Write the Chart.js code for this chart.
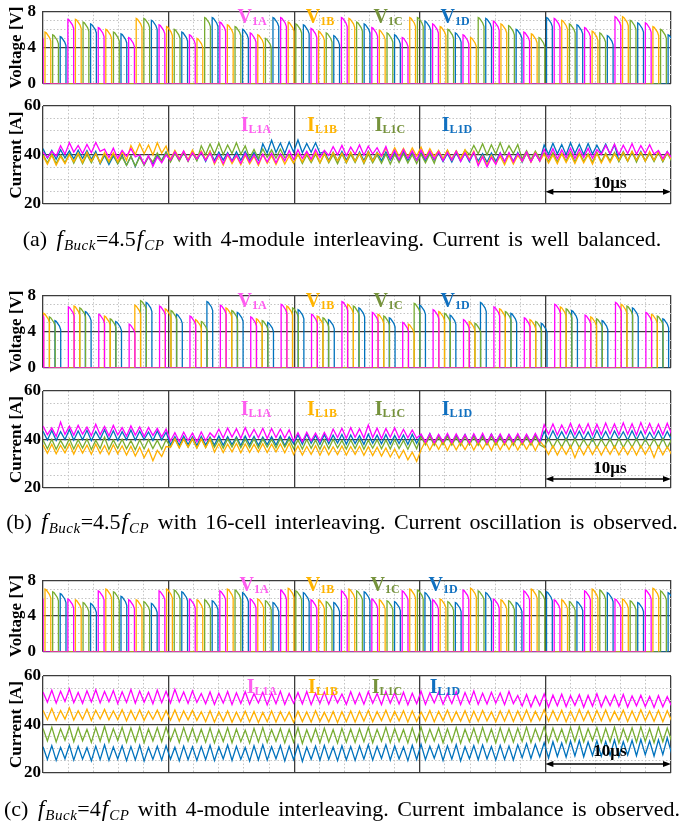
<!DOCTYPE html>
<html><head><meta charset="utf-8">
<script src="https://cdn.jsdelivr.net/npm/chart.js@4.4.1/dist/chart.umd.min.js"></script>
<style>
html,body{margin:0;padding:0;background:#fff;}
body{width:684px;height:827px;position:relative;overflow:hidden;font-family:"Liberation Serif","Times New Roman",serif;}
canvas{position:absolute;left:0;}
.lbl{position:absolute;font-weight:bold;font-size:20px;line-height:1;white-space:nowrap;transform:translate(-50%,-50%);}
.lbl sub{font-size:12px;vertical-align:-2px;}
.cap{position:absolute;left:0;width:684px;text-align:center;font-size:22px;word-spacing:3px;line-height:1;white-space:nowrap;transform:translateY(-50%);color:#000;}
.cap .m{font-style:italic;font-size:23px;padding:0 1px;}
.cap sub{font-size:15px;vertical-align:-4px;font-style:italic;letter-spacing:0.5px;}
.ar{position:absolute;font-weight:bold;font-size:17px;line-height:1;transform:translate(-50%,-50%);}
</style></head><body>
<canvas id="va" width="684" height="107" style="top:-6px"></canvas>
<canvas id="ia" width="684" height="126" style="top:92px"></canvas>
<canvas id="vb" width="684" height="107" style="top:278px"></canvas>
<canvas id="ib" width="684" height="125" style="top:377px"></canvas>
<canvas id="vc" width="684" height="106" style="top:563px"></canvas>
<canvas id="ic" width="684" height="125" style="top:662px"></canvas>

<div class="lbl" style="left:252px;top:16px;color:#ff5cf0">V<sub>1A</sub></div>
<div class="lbl" style="left:320px;top:16px;color:#ffb400">V<sub>1B</sub></div>
<div class="lbl" style="left:388px;top:16px;color:#76933c">V<sub>1C</sub></div>
<div class="lbl" style="left:455px;top:16px;color:#1070c0">V<sub>1D</sub></div>
<div class="lbl" style="left:256px;top:124px;color:#ff5cf0">I<sub>L1A</sub></div>
<div class="lbl" style="left:322px;top:124px;color:#ffb400">I<sub>L1B</sub></div>
<div class="lbl" style="left:390px;top:124px;color:#76933c">I<sub>L1C</sub></div>
<div class="lbl" style="left:457px;top:124px;color:#1070c0">I<sub>L1D</sub></div>
<div class="ar" style="left:610px;top:182px">10μs</div>
<div class="cap" style="top:240px">(a) <span class="m">f</span><sub>Buck</sub>=4.5<span class="m">f</span><sub>CP</sub> with 4-module interleaving. Current is well balanced.</div>

<div class="lbl" style="left:252px;top:300px;color:#ff5cf0">V<sub>1A</sub></div>
<div class="lbl" style="left:320px;top:300px;color:#ffb400">V<sub>1B</sub></div>
<div class="lbl" style="left:388px;top:300px;color:#76933c">V<sub>1C</sub></div>
<div class="lbl" style="left:455px;top:300px;color:#1070c0">V<sub>1D</sub></div>
<div class="lbl" style="left:256px;top:408px;color:#ff5cf0">I<sub>L1A</sub></div>
<div class="lbl" style="left:322px;top:408px;color:#ffb400">I<sub>L1B</sub></div>
<div class="lbl" style="left:390px;top:408px;color:#76933c">I<sub>L1C</sub></div>
<div class="lbl" style="left:457px;top:408px;color:#1070c0">I<sub>L1D</sub></div>
<div class="ar" style="left:610px;top:467px">10μs</div>
<div class="cap" style="top:523px">(b) <span class="m">f</span><sub>Buck</sub>=4.5<span class="m">f</span><sub>CP</sub> with 16-cell interleaving. Current oscillation is observed.</div>

<div class="lbl" style="left:254px;top:584px;color:#ff5cf0">V<sub>1A</sub></div>
<div class="lbl" style="left:320px;top:584px;color:#ffb400">V<sub>1B</sub></div>
<div class="lbl" style="left:385px;top:584px;color:#76933c">V<sub>1C</sub></div>
<div class="lbl" style="left:443px;top:584px;color:#1070c0">V<sub>1D</sub></div>
<div class="lbl" style="left:262px;top:686px;color:#ff5cf0">I<sub>L1A</sub></div>
<div class="lbl" style="left:323px;top:686px;color:#ffb400">I<sub>L1B</sub></div>
<div class="lbl" style="left:387px;top:686px;color:#76933c">I<sub>L1C</sub></div>
<div class="lbl" style="left:445px;top:686px;color:#1070c0">I<sub>L1D</sub></div>
<div class="ar" style="left:610px;top:750px">10μs</div>
<div class="cap" style="top:810px">(c) <span class="m">f</span><sub>Buck</sub>=4<span class="m">f</span><sub>CP</sub> with 4-module interleaving. Current imbalance is observed.</div>

<script>
// ---------- DATA ----------
const seriesNames = ['A','B','C','D'];
// Switching pulse start times [µs], panels (a) and (c) (4-module interleaving)
const tA_ac = [-0.45,1.98,4.40,6.82,9.24,11.66,14.08,16.50,18.92,21.34,23.76,26.18,28.60,31.02,33.44,35.86,38.28,40.70,43.12,45.54,47.96];
const tB_ac = [0.16,2.58,5.00,7.42,9.84,12.26,14.68,17.10,19.52,21.94,24.36,26.78,29.20,31.62,34.04,36.46,38.88,41.30,43.72,46.14,48.56];
const tC_ac = [0.77,3.19,5.61,8.03,10.45,12.87,15.29,17.71,20.13,22.55,24.97,27.39,29.81,32.23,34.65,37.07,39.49,41.91,44.33,46.75,49.17];
const tD_ac = [1.37,3.79,6.21,8.63,11.05,13.47,15.89,18.31,20.73,23.15,25.57,27.99,30.41,32.83,35.25,37.67,40.09,42.51,44.93,47.35,49.77];
// Pulse start times [µs], panel (b) (16-cell interleaving)
const tA_b = [-0.40,2.02,4.44,6.86,9.28,11.70,14.12,16.54,18.96,21.38,23.80,26.22,28.64,31.06,33.48,35.90,38.32,40.74,43.16,45.58,48.00];
const tB_b = [0.05,2.47,4.89,7.31,9.73,12.15,14.57,16.99,19.41,21.83,24.25,26.67,29.09,31.51,33.93,36.35,38.77,41.19,43.61,46.03,48.45];
const tC_b = [0.51,2.93,5.35,7.77,10.19,12.61,15.03,17.45,19.87,22.29,24.71,27.13,29.55,31.97,34.39,36.81,39.23,41.65,44.07,46.49,48.91];
const tD_b = [0.95,3.37,5.79,8.21,10.63,13.05,15.47,17.89,20.31,22.73,25.15,27.57,29.99,32.41,34.83,37.25,39.67,42.09,44.51,46.93,49.35];

// Pulse peak voltages [V]
const vA_a = [5.9,7.1,6.2,5.1,6.5,5.4,6.8,5.6,7.3,6.1,7.3,6.2,5.1,6.6,5.4,6.9,5.7,7.2,6.2,7.4,6.7];
const vB_a = [5.7,7.1,6.0,7.2,6.3,5.0,6.5,5.4,6.8,5.8,7.2,5.9,7.3,6.3,5.1,6.6,5.5,7.0,5.8,7.4,6.3];
const vC_a = [5.4,6.8,5.7,7.2,6.0,7.3,6.3,5.0,6.6,5.6,6.8,5.6,7.3,6.0,7.3,6.4,5.1,6.6,5.6,7.0,6.0];
const vD_a = [5.2,6.6,5.5,7.0,5.7,7.3,6.0,7.3,6.5,5.3,6.6,5.4,6.9,5.6,7.2,6.0,7.3,6.5,5.3,6.7,5.4];

const vA_b = [6.5,6.7,5.9,4.8,6.8,5.7,6.9,5.6,7.0,5.9,7.3,6.1,5.0,6.4,5.3,6.7,5.5,7.0,5.8,7.2,6.1];
const vB_b = [6.0,6.8,5.7,6.9,6.5,5.3,6.6,5.4,6.8,5.7,7.0,5.9,4.8,6.2,5.1,6.5,5.3,6.7,5.6,7.0,5.9];
const vC_b = [5.6,6.6,5.4,7.4,6.3,5.1,6.3,5.2,6.6,5.5,6.8,5.7,7.1,6.0,4.9,6.2,5.1,6.5,5.4,6.8,5.7];
const vD_b = [5.2,6.2,5.1,7.2,5.9,7.3,6.1,5.0,6.4,5.3,6.6,5.5,6.9,5.8,7.2,6.0,4.9,6.3,5.2,6.6,5.4];

const vA_c = [6.8,5.9,6.8,5.8,6.8,5.9,6.8,5.9,6.9,5.8,6.8,5.9,6.8,5.8,6.9,5.9,6.8,5.8,6.8,5.9,6.9];
const vB_c = [7.0,5.8,7.0,5.8,7.0,5.8,7.0,5.9,7.1,5.8,7.0,5.8,7.0,5.9,7.1,5.8,7.0,5.8,7.0,5.9,7.1];
const vC_c = [6.7,5.5,6.7,5.6,6.9,5.8,6.9,5.7,6.8,5.6,6.8,5.7,6.9,5.6,6.8,5.7,6.8,5.6,6.9,5.7,6.8];
const vD_c = [6.5,5.4,6.2,5.4,6.7,5.7,6.6,5.5,6.6,5.5,6.7,5.6,6.6,5.5,6.6,5.5,6.7,5.6,6.6,5.5,6.6];

// Inductor currents [A], scope samples every SAMPLE_DT µs
const SAMPLE_DT = 0.35;
const iA_a = [41.2,38.9,41.5,39.6,
43.8,40.3,45.0,41.2,43.9,40.6,44.3,40.9,45.1,41.5,
42.4,39.0,42.8,38.7,41.9,39.5,42.6,39.2,
40.1,36.3,39.8,35.4,39.2,36.8,40.0,
37.9,41.3,38.2,41.6,37.6,40.9,38.4,41.2,37.8,40.8,
36.9,40.2,36.5,40.4,37.3,39.9,36.6,40.6,37.1,40.1,36.4,40.3,37.2,40.7,36.8,40.5,37.6,
41.8,38.2,42.1,38.6,41.5,38.3,42.3,38.9,41.9,
39.8,43.4,40.1,43.9,39.7,43.2,40.3,44.1,39.9,43.6,40.4,43.0,39.6,43.5,
38.4,41.9,38.1,42.2,38.6,41.7,38.0,42.0,38.5,41.6,38.3,
41.4,37.6,41.1,37.9,41.5,37.4,40.9,37.8,41.2,
35.6,39.3,35.1,39.0,36.2,
40.8,37.3,41.0,37.1,40.6,37.5,41.2,37.2,40.7,37.6,
42.3,38.8,42.6,38.5,42.1,38.9,42.8,38.6,42.4,39.0,42.7,38.7,42.2,
40.2,43.9,40.5,44.4,40.1,44.0,40.6,44.6,40.3,43.8,40.7,44.2,40.4,
41.8,38.5,41.4,38.9];
const iB_a = [39.7,36.2,39.9,35.8,39.4,36.5,40.1,
37.3,40.8,37.0,41.2,37.5,40.6,36.9,41.0,37.4,40.9,37.2,41.3,37.8,
43.9,40.2,44.6,40.5,44.1,40.0,45.0,40.8,43.7,
38.2,41.9,38.6,41.5,38.0,42.0,38.4,41.7,38.1,41.6,
36.3,39.8,35.9,40.1,36.5,39.6,36.0,39.9,36.4,39.5,35.8,40.2,36.6,39.7,36.1,40.0,36.3,39.6,36.7,40.3,
37.2,40.9,37.5,41.1,36.9,40.6,37.3,41.0,37.6,40.8,37.1,41.2,37.4,40.7,37.0,41.3,37.5,40.9,
39.3,42.8,39.1,43.0,39.5,42.7,39.2,42.9,39.6,43.2,39.0,42.6,39.4,
41.8,38.3,42.0,38.1,41.7,38.5,42.1,38.2,41.6,
36.2,39.7,35.9,39.9,36.4,39.5,36.0,40.0,36.3,39.8,
37.3,40.9,37.1,41.0,37.5,
40.3,36.7,40.0,36.4,40.5,36.9,40.2,36.5,40.4,36.8,40.1,36.3,40.6,36.7,40.2,36.9,40.4,
37.8,41.2,37.6,41.5,37.9,41.1,37.5,41.4,37.8,41.3,37.7,41.0,38.0];
const iC_a = [40.2,36.8,40.4,36.5,40.0,36.9,40.6,36.6,40.3,36.4,40.1,36.8,40.5,36.7,40.2,36.9,40.4,36.5,
39.2,35.8,39.4,35.5,39.1,35.9,39.3,
37.2,40.8,37.4,41.0,37.1,40.7,37.5,41.2,37.3,40.9,37.6,
43.8,40.1,44.5,40.4,44.9,40.2,44.1,40.6,45.0,40.3,43.7,
38.8,42.3,38.6,42.5,39.0,42.1,38.7,42.4,38.9,
40.2,36.7,40.4,36.5,40.0,36.9,40.3,36.6,40.5,36.8,40.1,36.4,40.4,36.7,40.2,36.9,40.6,36.5,40.3,36.8,40.0,36.6,40.4,36.3,40.2,36.9,40.5,36.7,40.1,36.5,40.3,36.8,40.4,36.6,
41.7,38.3,41.9,38.1,41.6,38.5,42.0,
40.2,43.9,40.5,44.6,40.1,44.2,40.4,45.0,40.3,43.8,40.6,44.3,
38.3,41.8,38.1,41.6,38.5,
40.8,37.3,41.0,37.1,40.7,37.5,41.2,37.2,40.9,37.4,40.6,37.0,41.1,37.3,40.8,37.6,41.0,37.2,40.7,37.4,41.3,37.1,40.9,37.5,40.6,37.3,41.0,37.2,40.8,37.4];
const iD_a = [42.6,38.7,41.9,38.3,42.2,38.8,41.7,38.4,42.0,38.6,41.8,38.2,41.5,
36.4,39.8,36.1,39.6,36.5,39.9,35.8,39.5,35.3,39.7,36.0,39.4,36.3,39.8,
37.8,41.2,37.5,41.4,37.9,41.0,37.6,41.3,37.8,41.1,37.4,41.5,37.7,41.2,37.9,41.0,37.5,41.3,37.8,41.4,37.6,41.1,37.9,
44.6,40.8,46.0,41.0,44.9,40.6,45.3,41.2,46.1,40.9,44.7,41.1,45.0,40.7,
41.3,37.8,41.1,37.6,41.4,37.9,41.0,37.5,41.2,37.7,41.5,37.8,41.1,37.6,41.3,37.9,41.0,37.5,41.4,37.7,41.2,37.8,41.0,37.6,41.3,37.9,
40.8,37.3,40.6,37.1,40.9,37.4,40.7,37.2,41.0,37.5,40.6,37.0,40.8,37.3,40.9,37.2,40.7,37.4,41.0,37.1,40.8,37.3,40.6,37.5,
44.1,40.3,44.8,40.5,44.3,40.1,45.0,40.6,44.4,40.2,44.7,40.4,44.0,40.7,44.5,40.3,44.2,
37.8,41.3,37.5,41.1,37.9,41.4,37.6,41.0,37.8,41.2,37.5,41.3,37.7];

const iA_b = [45.6,42.0,44.8,41.3,47.2,42.1,45.5,41.8,45.9,42.2,45.1,41.6,46.3,42.0,45.4,41.5,45.8,41.9,44.9,41.4,45.6,41.8,45.2,41.2,45.0,41.7,44.6,41.1,44.3,
39.4,42.8,39.2,43.0,39.6,42.6,39.1,43.1,39.5,42.7,
40.8,44.3,40.6,44.7,41.0,44.4,40.5,44.9,40.9,44.2,40.7,44.6,40.4,44.5,40.8,44.3,40.6,44.0,
39.3,42.8,39.1,43.0,39.5,42.6,39.2,42.9,39.6,
44.3,40.8,44.6,40.5,44.9,40.9,44.4,40.6,46.0,40.8,44.7,40.4,44.5,40.9,44.8,40.6,44.2,40.7,43.9,40.5,
42.2,38.8,42.4,38.6,42.1,39.0,42.5,38.7,42.3,38.9,42.0,38.5,42.4,38.8,42.6,38.7,42.2,38.9,42.3,38.6,42.1,39.0,42.4,38.7,42.2,38.8,42.5,39.1,
46.1,42.2,46.4,41.9,46.0,42.3,46.7,42.0,46.2,42.4,46.5,41.8,46.3,42.1,46.8,42.3,46.4,42.0,46.9,42.2,46.5,41.9,47.0,42.4,46.6,42.1,46.3,42.0,46.7,42.2];
const iB_b = [37.8,34.3,38.0,34.1,37.6,34.5,38.2,34.0,37.9,34.4,37.7,33.9,38.1,34.2,37.5,33.8,37.8,34.1,37.4,33.6,37.2,33.2,36.8,32.5,36.0,31.2,35.5,33.0,37.1,
36.8,40.3,36.6,40.1,36.9,40.4,36.5,40.2,36.7,40.0,
34.8,38.3,34.6,38.1,34.9,38.4,34.5,38.2,34.7,38.0,34.8,38.3,34.6,38.1,34.9,38.2,34.5,38.4,
33.8,37.3,33.6,37.1,33.9,37.4,33.5,37.2,33.7,37.0,33.8,37.3,33.6,37.1,33.9,37.2,33.5,37.0,33.4,36.8,33.2,36.5,32.8,36.1,32.3,35.6,31.6,34.8,31.0,
35.8,39.3,35.6,39.1,35.9,39.4,35.5,39.2,35.7,39.0,35.8,39.3,35.6,39.1,35.9,39.2,35.5,39.4,35.7,39.0,35.8,39.3,35.6,39.1,35.9,39.2,35.5,39.4,
37.2,33.8,37.4,33.6,37.1,33.9,37.3,32.5,37.0,33.7,37.4,33.8,37.2,33.6,37.1,33.9,37.3,33.7,37.0,33.8,37.2,33.6,37.4,33.9,37.1,32.6,37.3,33.7,37.0,33.8];
const iC_b = [39.8,36.2,40.1,36.0,39.6,36.4,40.3,36.1,39.9,36.5,40.2,35.9,39.7,36.3,41.0,36.0,39.8,36.4,40.1,36.2,39.5,35.8,39.9,36.1,40.0,36.3,39.7,36.0,39.9,
36.8,40.2,36.6,40.4,36.9,40.1,36.5,40.3,36.7,40.5,36.8,40.0,36.4,40.2,36.9,40.4,36.6,40.1,36.7,40.3,36.5,40.2,36.8,40.0,36.6,40.4,36.9,40.1,
36.3,39.8,36.1,40.0,36.4,39.7,36.0,39.9,36.2,40.1,36.5,39.6,36.1,39.8,36.3,40.0,36.0,39.7,36.4,39.9,36.2,39.8,36.1,40.0,36.3,39.6,36.0,39.9,36.2,
41.2,37.8,41.4,37.6,41.1,37.9,41.3,37.7,41.0,37.5,41.4,37.8,41.2,37.6,41.1,37.9,41.3,37.7,41.0,37.8,41.2,37.6,41.4,37.9,41.1,37.7,41.3,37.8,
36.8,40.3,36.6,40.1,36.9,40.4,36.5,40.2,36.7,40.0,36.8,40.3,36.6,40.1,36.9,40.2,36.5,40.4,36.7,40.0,36.8,40.3,36.6,40.1,36.9,40.2,36.7,40.4,36.5,40.1];
const iD_b = [43.4,39.8,43.7,39.6,43.2,40.0,44.1,39.7,43.5,39.9,43.8,39.5,43.3,40.1,44.0,39.8,43.6,39.6,43.2,39.9,43.9,39.7,43.4,40.0,43.1,39.6,43.5,39.8,43.0,
37.8,41.2,37.6,41.4,37.9,41.1,37.5,41.3,37.8,41.0,37.7,41.5,37.6,41.2,37.9,41.1,37.5,41.4,37.8,41.3,37.6,41.0,37.9,41.2,37.7,41.4,37.5,41.1,
38.3,41.9,38.1,42.3,38.4,41.7,38.0,42.0,38.2,41.8,38.5,42.1,38.1,41.9,38.3,41.6,38.0,42.2,38.4,41.8,38.2,42.0,38.1,41.7,38.3,41.9,38.0,42.1,38.4,
41.9,38.3,42.4,38.1,41.8,38.4,42.0,38.2,41.7,38.5,42.1,38.0,41.9,38.3,41.8,38.1,42.2,38.4,41.7,38.2,42.0,38.3,41.9,38.1,41.8,38.4,42.1,38.2,
43.3,39.7,43.6,39.9,43.2,39.6,43.8,40.0,43.4,39.8,43.1,39.5,43.7,39.9,43.3,39.6,43.5,40.0,43.2,39.7,43.6,39.8,43.4,39.5,43.0,39.9,43.5,39.7,43.3,39.8];

const iA_c = [53.4,49.2,54.1,48.8,53.7,49.5,54.6,49.0,53.2,48.7,53.9,49.3,54.3,48.9,53.6,49.4,54.0,48.6,53.5,49.1,54.4,48.8,53.8,49.2,53.3,48.5,54.2,49.0,53.7,48.9,54.5,49.3,53.4,48.7,53.9,49.1,
52.8,48.6,53.4,48.3,52.9,48.8,53.6,48.2,53.1,48.7,53.5,48.4,52.7,48.9,53.3,48.1,53.0,48.6,53.7,48.3,52.8,48.8,53.2,48.5,53.6,48.2,52.9,48.7,53.4,48.4,53.1,48.9,52.6,48.3,53.5,48.6,
53.0,48.4,53.5,48.7,52.8,48.2,53.6,48.8,53.1,48.5,53.3,48.1,52.9,48.6,53.7,48.3,53.0,48.9,53.4,48.4,52.7,48.6,53.5,48.2,53.2,48.7,53.8,48.3,52.9,48.5,53.3,48.8,53.0,48.2,53.6,48.6,
52.0,47.6,52.4,47.3,51.8,47.8,52.6,47.2,52.1,47.7,52.5,47.4,51.9,47.9,52.3,47.1,52.0,47.6,52.7,47.3,51.7,47.8,52.2,47.5,52.4,47.2,51.8,47.7,52.1,47.4,51.6,47.0,51.9,47.3,51.5,47.6];
const iB_c = [45.9,42.0,46.6,41.7,45.8,42.2,46.9,41.8,45.7,42.1,46.3,41.6,45.9,42.3,46.2,41.9,45.6,42.0,46.1,41.5,45.8,41.9,46.0,41.7,45.5,42.1,45.9,41.6,45.7,41.8,46.0,41.4,45.6,41.9,45.8,41.7,
45.3,41.2,45.7,41.0,45.2,41.4,45.6,40.9,45.1,41.3,45.5,41.1,45.4,40.8,45.0,41.2,45.6,41.0,45.3,41.4,45.1,40.9,45.5,41.2,45.2,41.0,45.7,41.3,45.0,41.1,45.4,40.8,45.3,41.2,45.6,41.0,
45.5,41.4,45.8,41.1,45.3,41.6,45.9,41.2,45.4,41.5,45.7,41.0,45.6,41.3,45.2,41.5,45.8,41.1,45.4,41.6,45.9,41.2,45.3,41.4,45.7,41.0,45.5,41.3,45.8,41.5,45.2,41.1,45.6,41.4,45.9,41.2,
45.6,41.5,46.0,41.2,45.4,41.7,46.1,41.3,45.7,41.6,45.9,41.1,45.5,41.4,46.2,41.6,45.6,41.2,45.8,41.5,46.0,41.3,45.4,41.7,45.9,41.2,45.6,41.4,46.1,41.6,45.5,41.3,45.8,41.1,45.7,41.5];
const iC_c = [38.4,33.2,38.9,32.8,38.2,33.5,39.1,32.9,38.6,33.3,38.0,32.6,38.7,33.1,39.2,32.8,38.3,33.4,38.8,32.7,38.5,33.0,39.0,32.5,38.1,33.2,38.6,32.9,38.9,33.3,38.2,32.6,38.7,33.1,38.4,32.8,
38.0,32.7,38.5,32.4,37.8,33.0,38.6,32.5,38.1,32.9,37.7,32.3,38.4,32.8,38.7,32.6,37.9,33.1,38.3,32.4,38.0,32.7,38.6,32.2,37.8,32.9,38.2,32.5,38.5,32.8,37.9,32.3,38.4,32.7,38.1,32.6,
38.2,32.9,38.7,32.5,38.0,33.1,38.8,32.6,38.3,33.0,37.9,32.4,38.6,32.9,38.9,32.7,38.1,33.2,38.5,32.5,38.2,32.8,38.7,32.3,38.0,33.0,38.4,32.6,38.8,32.9,38.1,32.4,38.6,32.8,38.3,32.7,
38.4,33.0,38.9,32.6,38.2,33.3,39.0,32.7,38.5,33.1,38.1,32.5,38.8,33.0,39.1,32.8,38.3,33.4,38.7,32.6,38.4,32.9,38.9,32.4,38.2,33.1,38.6,32.7,39.0,33.0,38.3,32.5,38.8,32.9,38.5,33.2];
const iD_c = [30.8,25.6,31.3,25.2,30.6,25.9,31.5,25.3,31.0,25.7,30.4,25.0,31.1,25.5,31.6,25.2,30.7,25.8,31.2,25.1,30.9,25.4,31.4,24.9,30.5,25.6,31.0,25.3,31.3,25.7,30.6,25.0,31.1,25.5,30.8,25.2,
30.9,25.5,31.4,25.1,30.7,25.8,31.5,25.2,31.0,25.6,30.5,24.9,31.2,25.4,31.6,25.3,30.8,25.9,31.3,25.0,31.0,25.5,31.5,24.8,30.6,25.7,31.1,25.3,31.4,25.6,30.7,25.1,31.2,25.4,30.9,25.2,
31.1,25.7,31.6,25.3,30.9,26.0,31.7,25.4,31.2,25.8,30.7,25.1,31.4,25.6,31.8,25.5,31.0,26.1,31.5,25.2,31.2,25.7,31.7,25.0,30.8,25.9,31.3,25.5,31.6,25.8,30.9,25.3,31.4,25.6,31.1,25.4,
31.6,26.3,32.1,26.0,31.8,26.6,32.5,26.2,32.9,26.8,32.4,26.5,33.1,27.0,33.4,26.7,32.8,27.2,33.3,26.9,33.0,27.3,33.6,26.8,32.9,27.4,33.5,27.1,33.8,27.5,33.2,27.0,33.7,27.6,34.5,28.0];

// ---------- RENDERING ----------
const COLORS = {A:'#ff00ff', B:'#ffb000', C:'#77ac30', D:'#0072bd'};
const FONT = '"Liberation Serif","Times New Roman",serif';

function pulseWave(times, peaks){
  const pts = [];
  times.forEach((t,i)=>{
    const P = peaks[i];
    pts.push({x:t,y:0},{x:t,y:P},{x:t+0.1,y:P-0.08},{x:t+0.36,y:P-0.6},{x:t+0.46,y:P-1.0},{x:t+0.46,y:0});
  });
  return pts;
}
function currentWave(vals){ return vals.map((v,i)=>({x:i*SAMPLE_DT, y:v})); }

const arrowPlugin = {
  id:'arrow10',
  afterDatasetsDraw(chart, args, opts){
    if (opts.yVal == null) return;
    const {ctx} = chart; const xs = chart.scales.x, ys = chart.scales.y;
    const x0 = xs.getPixelForValue(opts.from), x1 = xs.getPixelForValue(opts.to), yy = ys.getPixelForValue(opts.yVal);
    ctx.save();
    ctx.strokeStyle = '#000'; ctx.fillStyle = '#000'; ctx.lineWidth = 1.5;
    ctx.beginPath(); ctx.moveTo(x0+3, yy); ctx.lineTo(x1-3, yy); ctx.stroke();
    ctx.beginPath(); ctx.moveTo(x0, yy); ctx.lineTo(x0+8, yy-3); ctx.lineTo(x0+8, yy+3); ctx.closePath(); ctx.fill();
    ctx.beginPath(); ctx.moveTo(x1, yy); ctx.lineTo(x1-8, yy-3); ctx.lineTo(x1-8, yy+3); ctx.closePath(); ctx.fill();
    ctx.restore();
  }
};

function makeChart(id, kind, series, arrowVal){
  const isV = kind === 'V';
  const yMin = isV ? 0 : 20, yMax = isV ? 8 : 60, major = isV ? 4 : 20, minor = isV ? 1 : 5;
  const datasets = seriesNames.map((s,k)=>({
    label: s, data: series[k], borderColor: COLORS[s], borderWidth: 1.3,
    pointRadius: 0, tension: 0, fill: false
  }));
  new Chart(document.getElementById(id), {
    type: 'line',
    data: { datasets },
    options: {
      responsive: false, animation: false, devicePixelRatio: 1,
      layout: { padding: { left: 0, right: 13, top: 14, bottom: 14 } },
      plugins: { legend:{display:false}, tooltip:{enabled:false},
                 arrow10: { from: 40, to: 50, yVal: arrowVal } },
      scales: {
        x: { type:'linear', min:0, max:50, position:'bottom',
             ticks:{display:false, stepSize:2},
             grid:{ color: c => (c.tick && c.tick.value % 10 === 0) ? 'rgba(0,0,0,0)' : '#c4c4c4', lineWidth:1, drawTicks:false },
             border:{ display:false, dash:[1.5,2] },
             afterFit: s => { s.height = 0; } },
        xM: { type:'linear', min:0, max:50, position:'top',
              ticks:{display:false, stepSize:10},
              grid:{ color:'#3c3c3c', lineWidth:1.3, drawTicks:false },
              border:{ display:false },
              afterFit: s => { s.height = 0; } },
        y: { type:'linear', min:yMin, max:yMax, position:'left',
             ticks:{ stepSize:major, color:'#000', padding: isV ? 7 : 2,
                     font:{family:FONT, size:17, weight:'bold'} },
             grid:{ color:'#3c3c3c', lineWidth:1.3, drawTicks:false },
             border:{ display:false },
             title:{ display:true, text: isV ? 'Voltage [V]' : 'Current [A]', color:'#000',
                     font:{family:FONT, size:17, weight:'bold'}, padding:{top:6, bottom:0} },
             afterFit: s => { s.width = 43; } },
        yM: { type:'linear', min:yMin, max:yMax, position:'right',
              ticks:{display:false, stepSize:minor},
              grid:{ color: c => (c.tick && c.tick.value % major === 0) ? 'rgba(0,0,0,0)' : '#c4c4c4', lineWidth:1, drawTicks:false },
              border:{ display:false, dash:[1.5,2] },
              afterFit: s => { s.width = 0; } }
      }
    },
    plugins: [arrowPlugin]
  });
}

makeChart('va','V',[pulseWave(tA_ac,vA_a),pulseWave(tB_ac,vB_a),pulseWave(tC_ac,vC_a),pulseWave(tD_ac,vD_a)], null);
makeChart('ia','I',[currentWave(iA_a),currentWave(iB_a),currentWave(iC_a),currentWave(iD_a)], 25.0);
makeChart('vb','V',[pulseWave(tA_b,vA_b),pulseWave(tB_b,vB_b),pulseWave(tC_b,vC_b),pulseWave(tD_b,vD_b)], null);
makeChart('ib','I',[currentWave(iA_b),currentWave(iB_b),currentWave(iC_b),currentWave(iD_b)], 23.7);
makeChart('vc','V',[pulseWave(tA_ac,vA_c),pulseWave(tB_ac,vB_c),pulseWave(tC_ac,vC_c),pulseWave(tD_ac,vD_c)], null);
makeChart('ic','I',[currentWave(iA_c),currentWave(iB_c),currentWave(iC_c),currentWave(iD_c)], 23.7);
</script>
</body></html>
